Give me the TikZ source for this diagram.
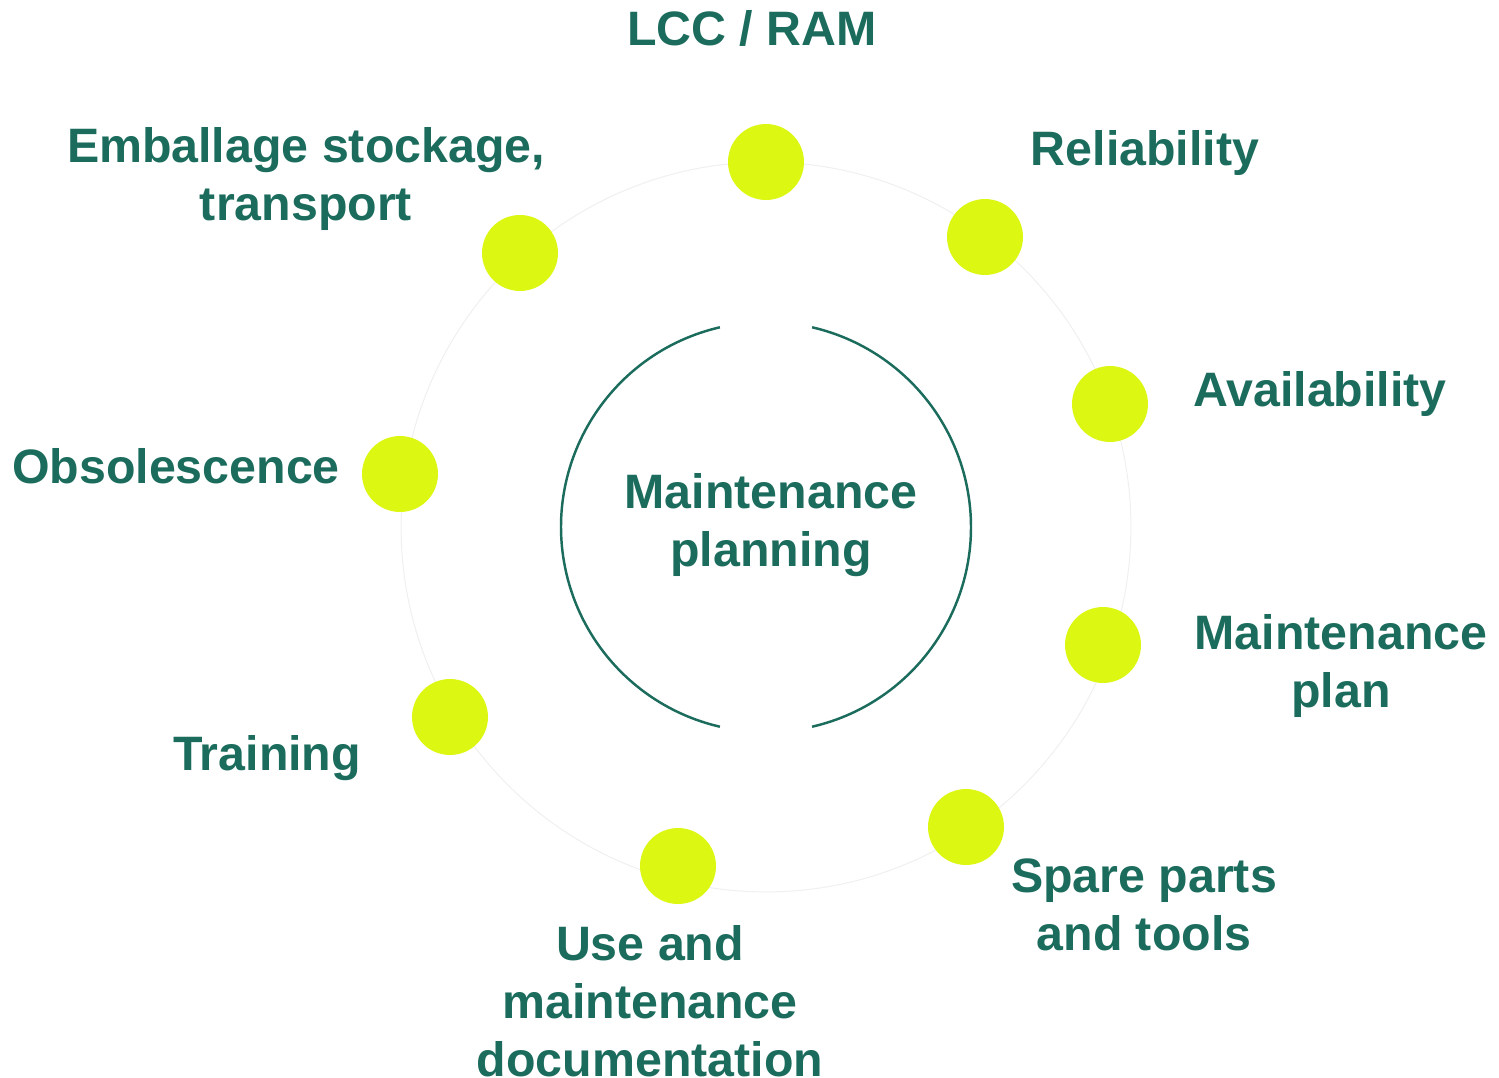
\documentclass[tikz,border=0pt]{standalone}
\usepackage{fontspec}
\setmainfont{Liberation Sans}
\usepackage{xcolor}
\usetikzlibrary{positioning}
\definecolor{tealtext}{RGB}{27,108,92}
\definecolor{limedot}{RGB}{220,247,18}
\tikzstyle{dot} = [circle, fill=limedot, minimum size=1.52cm, inner sep=0pt]
\tikzstyle{tag} = [text=tealtext, font=\fontsize{27.5}{33}\selectfont\bfseries, align=center, inner sep=0pt]
\tikzstyle{ring} = [draw=black!6, line width=0.6pt]
\tikzstyle{hubarc} = [draw=tealtext, line width=1.4pt]

\begin{document}
\begin{tikzpicture}[x=0.02cm,y=-0.02cm]
		\useasboundingbox (0,0) rectangle (1499,1078);
		\coordinate (c) at (766,527);
		\draw [ring] (c) circle [radius=7.3cm];
		\draw [hubarc] ([shift={(103:4.1cm)}]c) arc [start angle=103, end angle=257, radius=4.1cm];
		\draw [hubarc] ([shift={(-77:4.1cm)}]c) arc [start angle=-77, end angle=77, radius=4.1cm];
		\node (hub) [tag] at (771,525) {Maintenance\\planning};
		% dots around the ring
		\node (lcc) [dot] at (766,162) {};
		\node (rel) [dot] at (985,237) {};
		\node (ava) [dot] at (1110,404) {};
		\node (mpl) [dot] at (1103,645) {};
		\node (spa) [dot] at (966,827) {};
		\node (doc) [dot] at (678,866) {};
		\node (tra) [dot] at (450,717) {};
		\node (obs) [dot] at (400,474) {};
		\node (emb) [dot] at (520,253) {};
		% labels
		\node (lcct) [tag] at (752,28) {LCC / RAM};
		\node (embt) [tag] at (306,179) {Emballage stockage,\\transport};
		\node (relt) [tag] at (1145,153) {Reliability};
		\node (avat) [tag] at (1320,394) {Availability};
		\node (mplt) [tag] at (1341,666) {Maintenance\\plan};
		\node (spat) [tag] at (1144,905) {Spare parts\\and tools};
		\node (doct) [tag] at (650,1001) {Use and\\maintenance\\documentation};
		\node (trat) [tag] at (267,758) {Training};
		\node (obst) [tag] at (176,466) {Obsolescence};
	\end{tikzpicture}
\end{document}
